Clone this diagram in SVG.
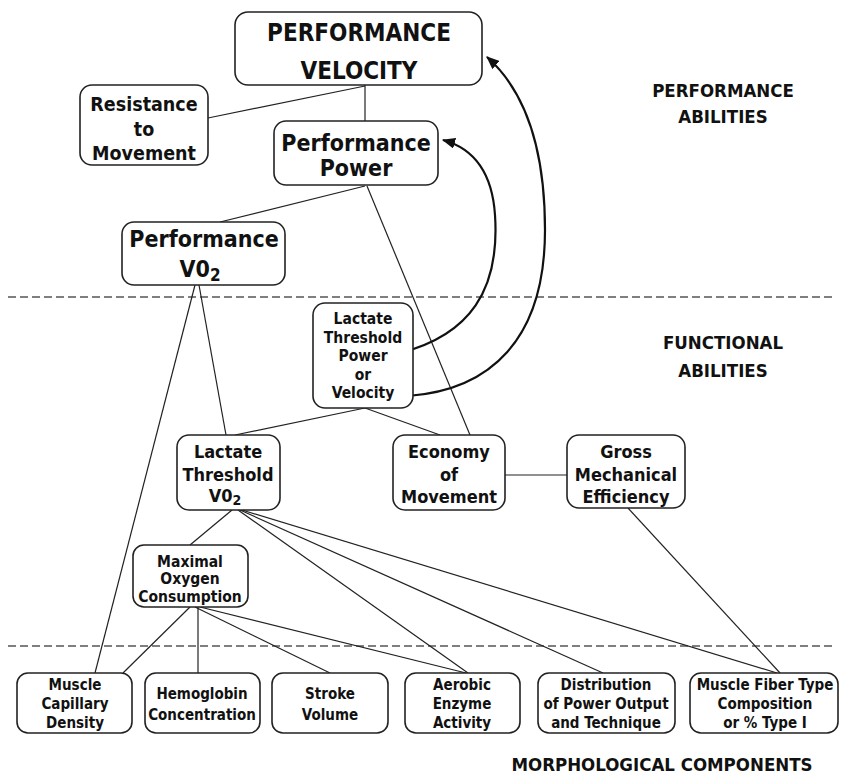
<svg xmlns="http://www.w3.org/2000/svg" width="841" height="778" viewBox="0 0 841 778">
<defs>
<style>
.box{fill:#fff;stroke:#222;stroke-width:1.6}
.t{font-family:"DejaVu Sans Condensed","DejaVu Sans",sans-serif;font-stretch:condensed;font-weight:bold;fill:#111;text-anchor:middle}
.ln{stroke:#222;stroke-width:1.2;fill:none}
.arr{stroke:#111;stroke-width:2.2;fill:none;marker-end:url(#ah)}
.dash{stroke:#555;stroke-width:1.6;stroke-dasharray:8 4;fill:none}
</style>
<marker id="ah" viewBox="0 0 12 10" refX="11" refY="5" markerWidth="6" markerHeight="5" orient="auto" markerUnits="strokeWidth">
<path d="M0,0 L12,5 L0,10 Z" fill="#111"/>
</marker>
</defs>
<rect width="841" height="778" fill="#fff"/>

<g id="dividers">
<line class="dash" x1="8" y1="297" x2="836" y2="297"/>
<line class="dash" x1="8" y1="646" x2="836" y2="646"/>
</g>

<g id="connectors">
<line class="ln" x1="208" y1="118" x2="365" y2="86"/>
<line class="ln" x1="365" y1="85" x2="365" y2="121"/>
<line class="ln" x1="365" y1="186" x2="220" y2="222"/>
<line class="ln" x1="367" y1="186" x2="470" y2="435"/>
<line class="ln" x1="199" y1="285" x2="226" y2="435"/>
<line class="ln" x1="195" y1="285" x2="95" y2="673"/>
<line class="ln" x1="365" y1="408" x2="235" y2="435"/>
<line class="ln" x1="365" y1="408" x2="440" y2="435"/>
<line class="ln" x1="505" y1="475" x2="567" y2="475"/>
<line class="ln" x1="232" y1="510" x2="190" y2="545"/>
<line class="ln" x1="238" y1="510" x2="468" y2="673"/>
<line class="ln" x1="240" y1="510" x2="603" y2="673"/>
<line class="ln" x1="242" y1="510" x2="777" y2="673"/>
<line class="ln" x1="628" y1="508" x2="780" y2="673"/>
<line class="ln" x1="190" y1="607" x2="123" y2="673"/>
<line class="ln" x1="198" y1="607" x2="198" y2="673"/>
<line class="ln" x1="195" y1="607" x2="330" y2="673"/>
<line class="ln" x1="200" y1="607" x2="466" y2="673"/>
<path class="arr" d="M400 353 C470 335, 500 290, 495 215 C492 170, 472 148, 443 140"/>
<path class="arr" d="M408 396 C490 390, 545 340, 545 230 C545 140, 522 88, 487 57"/>
</g>

<g id="performance-velocity">
<rect class="box" x="235" y="12" width="247" height="73" rx="13"/>
<text class="t" x="359" y="41" font-size="24">PERFORMANCE</text>
<text class="t" x="359" y="79" font-size="24">VELOCITY</text>
</g>
<g id="resistance">
<rect class="box" x="80" y="85" width="128" height="80" rx="12"/>
<text class="t" x="144" y="111" font-size="19.5">Resistance</text>
<text class="t" x="144" y="136" font-size="19.5">to</text>
<text class="t" x="144" y="160" font-size="19.5">Movement</text>
</g>
<g id="performance-power">
<rect class="box" x="274" y="121" width="164" height="64" rx="12"/>
<text class="t" x="356" y="151" font-size="23">Performance</text>
<text class="t" x="356" y="176" font-size="23">Power</text>
</g>
<g id="performance-vo2">
<rect class="box" x="122" y="222" width="163" height="63" rx="12"/>
<text class="t" x="204" y="247" font-size="23">Performance</text>
<text class="t" x="200" y="277" font-size="23">V0<tspan font-size="17" dy="4">2</tspan></text>
</g>
<g id="lt-power-velocity">
<rect class="box" x="313" y="303" width="100" height="105" rx="12"/>
<text class="t" x="363" y="324" font-size="15.5">Lactate</text>
<text class="t" x="363" y="343" font-size="15.5">Threshold</text>
<text class="t" x="363" y="361" font-size="15.5">Power</text>
<text class="t" x="363" y="380" font-size="15.5">or</text>
<text class="t" x="363" y="398" font-size="15.5">Velocity</text>
</g>
<g id="lt-vo2">
<rect class="box" x="177" y="435" width="103" height="75" rx="12"/>
<text class="t" x="228" y="458" font-size="18">Lactate</text>
<text class="t" x="228" y="481" font-size="18">Threshold</text>
<text class="t" x="225" y="502" font-size="18">V0<tspan font-size="14" dy="3">2</tspan></text>
</g>
<g id="economy">
<rect class="box" x="393" y="435" width="112" height="75" rx="12"/>
<text class="t" x="449" y="458" font-size="18">Economy</text>
<text class="t" x="449" y="481" font-size="18">of</text>
<text class="t" x="449" y="503" font-size="18">Movement</text>
</g>
<g id="gross-efficiency">
<rect class="box" x="567" y="435" width="118" height="73" rx="12"/>
<text class="t" x="626" y="458" font-size="18">Gross</text>
<text class="t" x="626" y="481" font-size="18">Mechanical</text>
<text class="t" x="626" y="503" font-size="18">Efficiency</text>
</g>
<g id="max-oxygen">
<rect class="box" x="133" y="545" width="115" height="62" rx="11"/>
<text class="t" x="190" y="567" font-size="15.5">Maximal</text>
<text class="t" x="190" y="584" font-size="15.5">Oxygen</text>
<text class="t" x="190" y="602" font-size="15.5">Consumption</text>
</g>
<g id="capillary">
<rect class="box" x="17" y="673" width="115" height="60" rx="11"/>
<text class="t" x="75" y="690" font-size="15">Muscle</text>
<text class="t" x="75" y="709" font-size="15">Capillary</text>
<text class="t" x="75" y="728" font-size="15">Density</text>
</g>
<g id="hemoglobin">
<rect class="box" x="145" y="673" width="115" height="60" rx="11"/>
<text class="t" x="202" y="699" font-size="15">Hemoglobin</text>
<text class="t" x="202" y="720" font-size="15">Concentration</text>
</g>
<g id="stroke-volume">
<rect class="box" x="272" y="673" width="116" height="60" rx="11"/>
<text class="t" x="330" y="699" font-size="15">Stroke</text>
<text class="t" x="330" y="720" font-size="15">Volume</text>
</g>
<g id="aerobic-enzyme">
<rect class="box" x="405" y="673" width="115" height="60" rx="11"/>
<text class="t" x="462" y="690" font-size="15">Aerobic</text>
<text class="t" x="462" y="709" font-size="15">Enzyme</text>
<text class="t" x="462" y="728" font-size="15">Activity</text>
</g>
<g id="distribution">
<rect class="box" x="538" y="673" width="137" height="60" rx="11"/>
<text class="t" x="606" y="690" font-size="15">Distribution</text>
<text class="t" x="606" y="709" font-size="15">of Power Output</text>
<text class="t" x="606" y="728" font-size="15">and Technique</text>
</g>
<g id="fiber-type">
<rect class="box" x="690" y="673" width="148" height="60" rx="11"/>
<text class="t" x="765" y="690" font-size="15">Muscle Fiber Type</text>
<text class="t" x="765" y="709" font-size="15">Composition</text>
<text class="t" x="765" y="728" font-size="15">or % Type I</text>
</g>

<g id="labels">
<text class="t" x="723" y="97" font-size="18.5">PERFORMANCE</text>
<text class="t" x="723" y="123" font-size="18.5">ABILITIES</text>
<text class="t" x="723" y="349" font-size="18.5">FUNCTIONAL</text>
<text class="t" x="723" y="377" font-size="18.5">ABILITIES</text>
<text class="t" x="662" y="771" font-size="18.5">MORPHOLOGICAL COMPONENTS</text>
</g>
</svg>
